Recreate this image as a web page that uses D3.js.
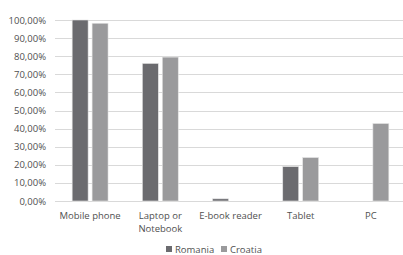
<!DOCTYPE html>
<html>
<head>
<meta charset="utf-8">
<script src="https://cdn.jsdelivr.net/npm/d3@7"></script>
<style>
  body { margin: 0; background: #fff; }
  text { font-family: "Open Sans", "Liberation Sans", sans-serif; fill: #505050; }
</style>
</head>
<body>
<svg id="chart" width="403" height="255"></svg>
<script>
// Data
let categories = ["Mobile phone", "Laptop or\nNotebook", "E-book reader", "Tablet", "PC"];
let seriesNames = ["Romania", "Croatia"];
let romania = [100, 76, 1.2, 19, 0];
let croatia = [98.2, 79.5, 0, 24, 42.8];
let yTicks = [0, 10, 20, 30, 40, 50, 60, 70, 80, 90, 100];
let colours = ["#6b6b6f", "#9a9a9c"];

let svg = d3.select("#chart");
let margin = { left: 55, right: -3, top: 20, bottom: 54 };
let width = 403 - margin.left - margin.right;
let height = 255 - margin.top - margin.bottom;

let g = svg.append("g").attr("transform", "translate(" + margin.left + "," + margin.top + ")");

let x0 = d3.scaleBand().domain(categories).range([0, width]).paddingInner(0).paddingOuter(0);
let x1 = d3.scaleBand().domain(seriesNames).range([0, x0.bandwidth()]).paddingInner(0.2).paddingOuter(0.86);
let y = d3.scaleLinear().domain([0, 100]).range([height, 0]);

// gridlines
g.selectAll("line.grid")
    .data(yTicks)
    .enter()
    .append("line")
    .attr("x1", 0)
    .attr("x2", width)
    .attr("y1", d => Math.round(y(d)) + 0.5)
    .attr("y2", d => Math.round(y(d)) + 0.5)
    .attr("stroke", "#d9d9d9")
    .attr("stroke-width", 1);

// y tick labels
g.selectAll("text.ytick")
    .data(yTicks)
    .enter()
    .append("text")
    .attr("x", -9)
    .attr("y", d => y(d) + 3.5)
    .attr("text-anchor", "end")
    .attr("font-size", "9.5px")
    .text(d => d.toFixed(2).replace(".", ",") + "%");

// bars
let rows = categories.map((c, i) => ({ cat: c, vals: [romania[i], croatia[i]] }));
let groups = g.selectAll("g.cat")
    .data(rows)
    .enter()
    .append("g")
    .attr("transform", d => "translate(" + x0(d.cat) + ",0)");

groups.selectAll("rect")
    .data(d => d.vals.map((v, i) => ({ name: seriesNames[i], value: v, i: i })))
    .enter()
    .append("rect")
    .filter(d => d.value > 0)
    .attr("x", d => x1(d.name))
    .attr("width", x1.bandwidth())
    .attr("y", d => y(d.value))
    .attr("height", d => y(0) - y(d.value))
    .attr("fill", d => colours[d.i])
    .attr("stroke", "#e4e4e4")
    .attr("stroke-width", 0.6);

// category labels
g.selectAll("text.cat")
    .data(categories)
    .enter()
    .append("text")
    .attr("x", d => x0(d) + x0.bandwidth() / 2)
    .attr("y", height + 18)
    .attr("text-anchor", "middle")
    .attr("font-size", "9.5px")
    .each(function (d) {
        let lines = d.split("\n");
        let t = d3.select(this);
        lines.forEach((l, i) => {
            t.append("tspan")
                .attr("x", x0(d) + x0.bandwidth() / 2)
                .attr("dy", i == 0 ? 0 : 13)
                .text(l);
        });
    });

// legend
let legend = svg.append("g").attr("transform", "translate(166,246)");
let legendX = [0, 55];
seriesNames.forEach((n, i) => {
    legend.append("rect")
        .attr("x", legendX[i])
        .attr("y", 0)
        .attr("width", 6)
        .attr("height", 6)
        .attr("fill", colours[i]);
    legend.append("text")
        .attr("x", legendX[i] + 9)
        .attr("y", 6.5)
        .attr("font-size", "9.5px")
        .text(n);
});
</script>
</body>
</html>
